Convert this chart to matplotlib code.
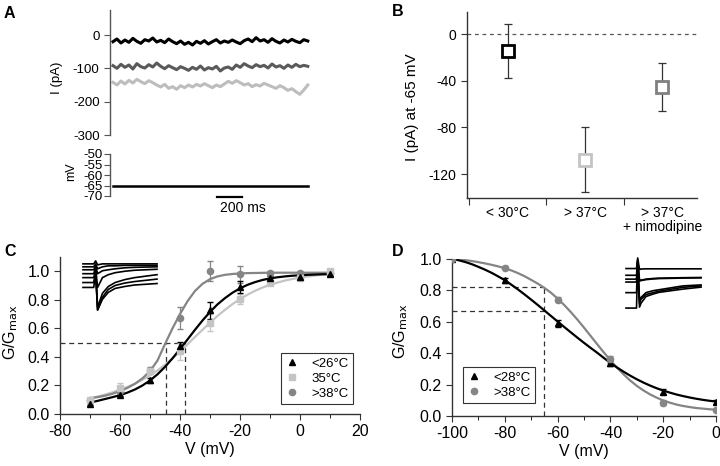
import matplotlib
matplotlib.use("Agg")
import matplotlib.pyplot as plt
import matplotlib.transforms as mtransforms

plt.rcParams['font.family'] = ['Liberation Sans', 'DejaVu Sans']
plt.rcParams['axes.linewidth'] = 1.0
plt.rcParams['axes.unicode_minus'] = False
plt.rcParams['xtick.direction'] = 'out'
plt.rcParams['ytick.direction'] = 'out'

trace_t = [i * 31.8 for i in range(50)]
trace_cold = [-20, -12, -24, -15, -22, -10, -19, -25, -14, -18, -9, -21, -16, -23, -12, -20, -26, -18, -28, -22,
              -30, -19, -25, -17, -27, -20, -14, -24, -18, -22, -15, -21, -26, -17, -12, -20, -8, -18, -14, -22,
              -11, -19, -24, -15, -21, -13, -19, -23, -14, -18]
trace_nimo = [-92, -100, -88, -97, -90, -102, -86, -95, -99, -89, -96, -84, -94, -101, -92, -98, -104, -95, -100, -106,
              -97, -103, -93, -105, -98, -102, -94, -108, -99, -96, -103, -90, -97, -86, -93, -98, -89, -95, -91, -99,
              -87, -96, -92, -100, -90, -97, -88, -95, -91, -94]
trace_warm = [-142, -150, -138, -147, -136, -144, -133, -140, -146, -137, -143, -150, -156, -148, -160, -155, -163, -152,
              -158, -150, -156, -148, -153, -146, -152, -158, -150, -155, -147, -139, -145, -137, -143, -150, -146, -155,
              -149, -153, -145, -150, -155, -160, -152, -158, -166, -161, -170, -178, -165, -150]
hold_t = [0, 1560]
hold_mv = [-65, -65]

# ---- panel B
b_groups = ['< 30°C', '> 37°C', '> 37°C\n+ nimodipine']
b_mean = [-14.3, -108, -45.7]
b_err_up = [22.6, 28, 21.1]
b_err_dn = [23.7, 27.6, 20.3]
b_colors = ['black', '#c4c4c4', '#808080']

# ---- panel C: activation
c_v = [-70, -60, -50, -40, -30, -20, -10, 0, 10]
c_cold = [0.07, 0.135, 0.235, 0.474, 0.727, 0.89, 0.954, 0.96, 0.98]
c_cold_err = [0.01, 0.01, 0.015, 0.03, 0.06, 0.045, 0.015, 0.01, 0.01]
c_mid = [0.095, 0.18, 0.30, 0.44, 0.64, 0.806, 0.92, 0.955, 1.0]
c_mid_err = [0.015, 0.04, 0.02, 0.06, 0.06, 0.035, 0.015, 0.015, 0.01]
c_v_hot = [-70, -60, -50, -40, -30, -20, -10, 0, 10]
c_hot = [0.10, 0.16, 0.31, 0.673, 1.0, 0.98, 0.985, 0.985, 0.99]
c_hot_err = [0.01, 0.01, 0.02, 0.08, 0.07, 0.06, 0.01, 0.01, 0.01]
c_fit_v = [-70 + 2.5 * i for i in range(33)]
c_fit_cold = [0.080, 0.092, 0.105, 0.118, 0.132, 0.150, 0.172, 0.200, 0.235, 0.278, 0.330, 0.390, 0.455, 0.522,
              0.590, 0.655, 0.715, 0.768, 0.812, 0.850, 0.880, 0.905, 0.924, 0.939, 0.950, 0.958, 0.964, 0.969,
              0.972, 0.975, 0.977, 0.979, 0.980]
c_fit_mid = [0.110, 0.122, 0.136, 0.152, 0.170, 0.190, 0.213, 0.240, 0.270, 0.305, 0.345, 0.390, 0.438, 0.488,
             0.540, 0.590, 0.640, 0.687, 0.730, 0.770, 0.805, 0.836, 0.863, 0.886, 0.905, 0.921, 0.935, 0.946,
             0.955, 0.963, 0.970, 0.976, 0.980]
c_fit_hot = [0.110, 0.118, 0.128, 0.142, 0.160, 0.183, 0.212, 0.250, 0.300, 0.375, 0.490, 0.600, 0.700, 0.790,
             0.862, 0.912, 0.945, 0.964, 0.975, 0.981, 0.985, 0.987, 0.988, 0.989, 0.990, 0.990, 0.990, 0.990,
             0.990, 0.990, 0.990, 0.990, 0.990]

# ---- panel D: inactivation
d_v = [-100, -80, -60, -40, -20, 0]
d_cold = [1.0, 0.865, 0.59, 0.335, 0.155, 0.09]
d_cold_err = [0.005, 0.015, 0.02, 0.015, 0.015, 0.015]
d_hot = [1.0, 0.945, 0.74, 0.36, 0.085, 0.04]
d_hot_err = [0.005, 0.008, 0.015, 0.025, 0.015, 0.01]
d_fit_v = [-100 + 2.5 * i for i in range(41)]
d_fit_cold = [1.000, 0.992, 0.981, 0.967, 0.950, 0.932, 0.912, 0.889, 0.865, 0.836, 0.806, 0.774, 0.741, 0.707,
              0.672, 0.637, 0.602, 0.567, 0.533, 0.499, 0.466, 0.434, 0.403, 0.370, 0.338, 0.309, 0.282, 0.257,
              0.234, 0.213, 0.194, 0.177, 0.162, 0.149, 0.137, 0.127, 0.118, 0.110, 0.103, 0.097, 0.092]
d_fit_hot = [1.000, 0.997, 0.993, 0.987, 0.980, 0.972, 0.963, 0.953, 0.941, 0.927, 0.910, 0.890, 0.867, 0.843,
             0.816, 0.785, 0.748, 0.707, 0.662, 0.614, 0.563, 0.510, 0.457, 0.405, 0.355, 0.308, 0.265, 0.226,
             0.192, 0.163, 0.138, 0.117, 0.099, 0.085, 0.073, 0.064, 0.057, 0.051, 0.047, 0.043, 0.040]

# ---- inset traces (arbitrary units)
inset_c_t = [0, 11, 13, 15, 20, 26, 33, 43, 53, 76]
inset_c = [
    [-6, -6, -3, -7, -6, -6, -6, -6, -6, -6],
    [-9, -9, -6, -11, -9, -8, -8, -7.5, -7.5, -7.5],
    [-12, -12, -8, -16, -13, -12, -11, -10, -9.5, -9],
    [-16, -16, -10, -30, -20, -17, -15, -13.5, -12.5, -11.5],
    [-20, -20, -12, -50, -36, -29, -25, -22, -20, -17],
    [-25, -25, -14, -53, -40, -32, -28, -25.5, -24, -21.5],
    [-30, -30, -16, -53, -42, -35, -31, -29, -27.5, -26],
]
inset_d_t = [1, 11.5, 12.7, 14.5, 16, 21, 28, 34, 58, 76]
inset_d = [
    [-12, -12, -1, -13, -12.5, -12.3, -12.3, -12.3, -12.3, -12.3],
    [-19, -19, -3, -24, -24, -23, -22.3, -22, -21.5, -21.3],
    [-23, -23, -4, -25, -24.5, -23.5, -22.8, -22.4, -21.9, -21.6],
    [-26, -26, -5, -45, -42, -37, -35, -34, -30, -29],
    [-37, -37, -6, -48, -44, -39, -37, -35.5, -31.5, -30],
    [-53, -53, -7, -52, -48, -41, -38.5, -36.7, -33.3, -31.3],
]

W, H = 720, 466
fig = plt.figure(figsize=(7.2, 4.66), dpi=100)


def px_axes(left, top, right, bottom):
    return fig.add_axes([left / W, 1 - bottom / H, (right - left) / W, (bottom - top) / H])


def style(ax, color='#333333'):
    for s in ['top', 'right']:
        ax.spines[s].set_visible(False)
    for s in ['left', 'bottom']:
        ax.spines[s].set_color(color)
    ax.tick_params(colors=color, labelcolor='black')


# ---------------- A
axA = px_axes(110, 10, 310, 135)
style(axA, '#555555')
axA.spines['bottom'].set_visible(False)
axA.plot(trace_t, trace_warm, color='#bdbdbd', lw=2.2)
axA.plot(trace_t, trace_nimo, color='#5a5a5a', lw=2.2)
axA.plot(trace_t, trace_cold, color='black', lw=2.2)
axA.set_xlim(-24, 1576)
axA.set_ylim(-300, 75)
axA.set_yticks([0, -100, -200, -300])
axA.set_xticks([])
axA.tick_params(labelsize=9.5, length=4)
axA.set_ylabel('I (pA)', fontsize=9.5)
axA.yaxis.set_label_coords(-0.235, 0.46)

axA2 = px_axes(110, 154, 310, 196)
style(axA2, '#555555')
axA2.spines['bottom'].set_visible(False)
axA2.plot(hold_t, hold_mv, color='black', lw=1.8)
axA2.set_xlim(-24, 1576)
axA2.set_ylim(-70, -50)
axA2.set_yticks([-50, -55, -60, -65, -70])
axA2.set_xticks([])
axA2.tick_params(labelsize=9.5, length=4, pad=1)
axA2.set_ylabel('mV', fontsize=9)
axA2.yaxis.set_label_coords(-0.165, 0.58)
tr = mtransforms.blended_transform_factory(axA2.transData, axA2.transAxes)
axA2.plot([832, 1032], [-0.03, -0.03], color='black', lw=1.6, transform=tr, clip_on=False)
axA2.text(856, -0.29, '200 ms', transform=tr, fontsize=10, va='center', ha='left')

# ---------------- B
axB = px_axes(467, 12, 697, 198)
style(axB)
axB.axhline(0, color='#555555', lw=0.9, ls=(0, (3, 3)))
for i in range(3):
    axB.errorbar(i, b_mean[i], yerr=[[b_err_dn[i]], [b_err_up[i]]], fmt='none',
                 ecolor='#333333', elinewidth=0.9, capsize=3, capthick=0.9, zorder=2)
    axB.plot(i, b_mean[i], marker='s', ms=9, mfc='white', mec=b_colors[i], mew=2, zorder=3)
axB.set_xlim(-0.53, 2.45)
axB.set_ylim(-140.5, 19)
axB.set_yticks([0, -40, -80, -120])
axB.set_xticks([-0.5, 0.5, 1.5])
axB.set_xticklabels([])
axB.set_xticks([0, 1, 2], minor=True)
axB.set_xticklabels(b_groups, minor=True, fontsize=10, linespacing=1.0)
axB.tick_params(axis='x', which='minor', length=0, pad=6)
axB.tick_params(axis='x', which='major', length=5)
axB.tick_params(axis='y', labelsize=10, length=4)
axB.set_ylabel('I (pA) at -65 mV', fontsize=11)
axB.yaxis.set_label_coords(-0.21, 0.49)

# ---------------- C
axC = px_axes(60, 257, 360, 414)
style(axC)
light, mid = '#c4c4c4', '#858585'
axC.plot([-80, -38.4], [0.5, 0.5], color='#333333', lw=0.9, ls=(0, (4, 3)))
axC.plot([-44.7, -44.7], [0, 0.5], color='#333333', lw=0.9, ls=(0, (4, 3)))
axC.plot([-38.4, -38.4], [0, 0.5], color='#333333', lw=0.9, ls=(0, (4, 3)))
axC.errorbar(c_v_hot, c_hot, yerr=c_hot_err, fmt='none', ecolor=mid, elinewidth=0.9, capsize=2.5)
axC.errorbar(c_v, c_mid, yerr=c_mid_err, fmt='none', ecolor=light, elinewidth=0.9, capsize=2.5)
axC.errorbar(c_v, c_cold, yerr=c_cold_err, fmt='none', ecolor='black', elinewidth=0.9, capsize=2.5)
axC.plot(c_fit_v, c_fit_mid, color=light, lw=1.6)
axC.plot(c_fit_v, c_fit_hot, color=mid, lw=1.6)
axC.plot(c_fit_v, c_fit_cold, color='black', lw=1.6)
axC.plot(c_v_hot, c_hot, 'o', color=mid, ms=4.5, label='>38°C', zorder=4)
axC.plot(c_v, c_mid, 's', color=light, ms=4.5, label='35°C', zorder=4)
axC.plot(c_v, c_cold, '^', color='black', ms=4.5, label='<26°C', zorder=4)
axC.set_xlim(-80, 20)
axC.set_ylim(0, 1.1)
axC.set_xticks(range(-80, 21, 20))
axC.set_xticks(range(-70, 20, 20), minor=True)
axC.set_yticks([0, 0.2, 0.4, 0.6, 0.8, 1.0])
axC.tick_params(labelsize=11.5, length=4)
axC.tick_params(which='minor', length=3)
axC.set_xlabel('V (mV)', fontsize=11.5, labelpad=2)
axC.set_ylabel('G/G$_{\\mathrm{max}}$', fontsize=11.5)
axC.yaxis.set_label_coords(-0.133, 0.52)
h, l = axC.get_legend_handles_labels()
legC = axC.legend(h[::-1], l[::-1], loc='lower right', bbox_to_anchor=(1.0, 0.02), fontsize=9.5,
                  fancybox=False, edgecolor='#333333', framealpha=1, handlelength=1.0,
                  handletextpad=1.0, borderpad=0.35, labelspacing=0.2)
legC.get_frame().set_linewidth(0.8)

# ---------------- D
axD = px_axes(452, 259, 716, 416)
style(axD)
axD.plot([-100, -65], [0.82, 0.82], color='#333333', lw=0.9, ls=(0, (4, 3)))
axD.plot([-100, -65], [0.67, 0.67], color='#333333', lw=0.9, ls=(0, (4, 3)))
axD.plot([-65, -65], [0, 0.82], color='#333333', lw=0.9, ls=(0, (4, 3)))
axD.errorbar(d_v, d_hot, yerr=d_hot_err, fmt='none', ecolor=mid, elinewidth=0.9, capsize=2.5)
axD.errorbar(d_v, d_cold, yerr=d_cold_err, fmt='none', ecolor='black', elinewidth=0.9, capsize=2.5)
axD.plot(d_fit_v, d_fit_hot, color=mid, lw=1.6)
axD.plot(d_fit_v, d_fit_cold, color='black', lw=1.6)
axD.plot(d_v, d_cold, '^', color='black', ms=4.5, label='<28°C', zorder=4)
axD.plot(d_v, d_hot, 'o', color=mid, ms=4.5, label='>38°C', zorder=4)
axD.set_xlim(-100, 0)
axD.set_ylim(0, 1.0)
axD.set_xticks(range(-100, 1, 20))
axD.set_xticks(range(-90, 0, 10), minor=True)
axD.set_yticks([0, 0.2, 0.4, 0.6, 0.8, 1.0])
axD.tick_params(labelsize=11.5, length=4)
axD.tick_params(which='minor', length=3)
axD.set_xlabel('V (mV)', fontsize=11.5, labelpad=2)
axD.set_ylabel('G/G$_{\\mathrm{max}}$', fontsize=11.5)
axD.yaxis.set_label_coords(-0.16, 0.54)
legD = axD.legend(loc='lower left', bbox_to_anchor=(0.015, 0.04), fontsize=9.5,
                  fancybox=False, edgecolor='#333333', framealpha=1, handlelength=1.0,
                  handletextpad=1.0, borderpad=0.35, labelspacing=0.2)
legD.get_frame().set_linewidth(0.8)

# ---------------- insets
inC = px_axes(82, 257, 158, 312)
for tr_vals in inset_c:
    inC.plot(inset_c_t, tr_vals, color='black', lw=1.2)
inC.set_xlim(-1, 77)
inC.set_ylim(-55, 1)
inC.axis('off')

inD = px_axes(624, 256, 703, 310)
for tr_vals in inset_d:
    inD.plot(inset_d_t, tr_vals, color='black', lw=1.2)
inD.set_xlim(-1, 78)
inD.set_ylim(-55, 1)
inD.axis('off')

# ---------------- panel letters
for lab, x, y in [('A', 4, 6), ('B', 392, 4), ('C', 4, 244), ('D', 392, 244)]:
    fig.text(x / W, 1 - y / H, lab, fontsize=11.5, fontweight='bold', ha='left', va='top')

fig.savefig('out.png', dpi=100)
